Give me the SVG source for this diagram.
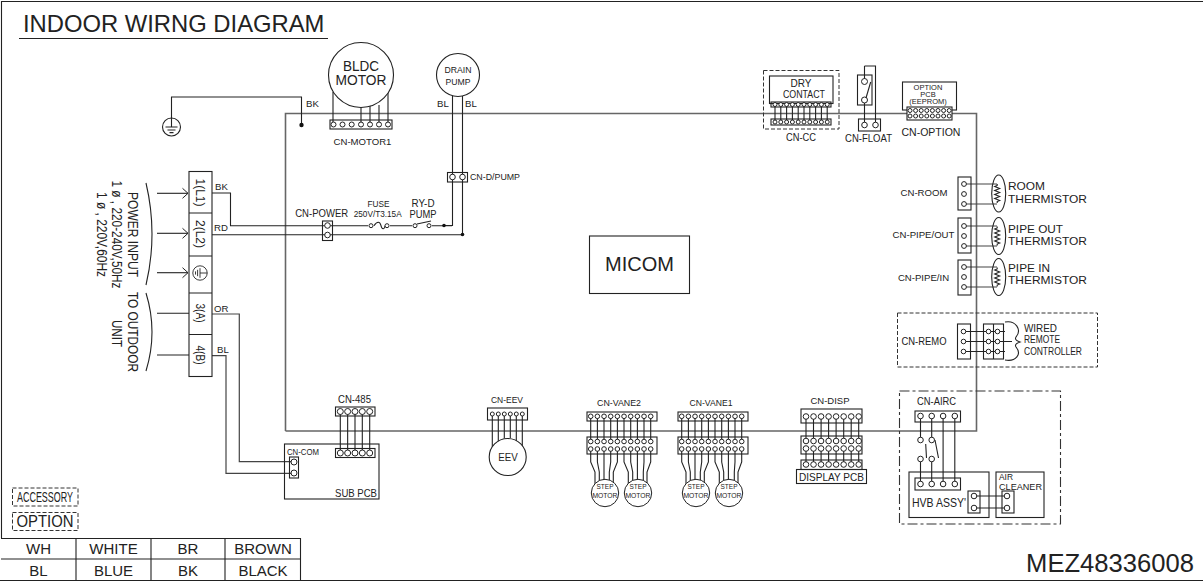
<svg xmlns="http://www.w3.org/2000/svg" xmlns:xlink="http://www.w3.org/1999/xlink" width="1203" height="583" viewBox="0 0 1203 583">
<style>
text{font-family:"Liberation Sans",Arial,sans-serif;fill:#222}
.m{text-anchor:middle}
.box{fill:none;stroke:#222;stroke-width:1.1}
.w{fill:none;stroke:#222;stroke-width:1.1}
.g{fill:none;stroke:#666;stroke-width:1.6}
.g2{fill:none;stroke:#444;stroke-width:1.2}
.pin{fill:#fff;stroke:#222;stroke-width:1}
.d1{fill:none;stroke:#333;stroke-width:1;stroke-dasharray:4 2}
.d2{fill:none;stroke:#333;stroke-width:1.1;stroke-dasharray:10 3 3 3}
.s7{font-size:7.5px}.s8{font-size:8.5px}.s9{font-size:9.6px}.s10{font-size:10.5px}.s11{font-size:11.8px}.s12{font-size:12.5px}.s13{font-size:15px}.s14{font-size:14px}
</style>
<defs>
<marker id="arr" markerUnits="userSpaceOnUse" markerWidth="8" markerHeight="12" refX="6.5" refY="6" orient="auto"><path d="M1 1L6.5 6L1 11" fill="none" stroke="#222" stroke-width="1"/></marker>
<g id="p10cc"><circle class="pin" cx="0" r="2"/><circle class="pin" cx="5.8" r="2"/><circle class="pin" cx="11.6" r="2"/><circle class="pin" cx="17.4" r="2"/><circle class="pin" cx="23.2" r="2"/><circle class="pin" cx="29" r="2"/><circle class="pin" cx="34.8" r="2"/><circle class="pin" cx="40.6" r="2"/><circle class="pin" cx="46.4" r="2"/><circle class="pin" cx="52.2" r="2"/></g>
<g id="p8o"><circle class="pin" cx="0" r="2"/><circle class="pin" cx="5.6" r="2"/><circle class="pin" cx="11.2" r="2"/><circle class="pin" cx="16.8" r="2"/><circle class="pin" cx="22.4" r="2"/><circle class="pin" cx="28" r="2"/><circle class="pin" cx="33.6" r="2"/><circle class="pin" cx="39.2" r="2"/></g>
<g id="p5"><circle class="pin" cx="0" r="3"/><circle class="pin" cx="7.35" r="3"/><circle class="pin" cx="14.7" r="3"/><circle class="pin" cx="22" r="3"/><circle class="pin" cx="29.4" r="3"/></g>
<g id="p10"><circle class="pin" cx="0" r="2.3"/><circle class="pin" cx="6.67" r="2.3"/><circle class="pin" cx="13.33" r="2.3"/><circle class="pin" cx="20" r="2.3"/><circle class="pin" cx="26.67" r="2.3"/><circle class="pin" cx="33.33" r="2.3"/><circle class="pin" cx="40" r="2.3"/><circle class="pin" cx="46.67" r="2.3"/><circle class="pin" cx="53.33" r="2.3"/><circle class="pin" cx="60" r="2.3"/></g>
<g id="p8d"><circle class="pin" cx="0" r="2.8"/><circle class="pin" cx="7.53" r="2.8"/><circle class="pin" cx="15.06" r="2.8"/><circle class="pin" cx="22.6" r="2.8"/><circle class="pin" cx="30.1" r="2.8"/><circle class="pin" cx="37.65" r="2.8"/><circle class="pin" cx="45.2" r="2.8"/><circle class="pin" cx="52.7" r="2.8"/></g>
<g id="p4"><circle class="pin" cx="0" r="2.8"/><circle class="pin" cx="11.2" r="2.8"/><circle class="pin" cx="22.6" r="2.8"/><circle class="pin" cx="34.3" r="2.8"/></g>
<g id="gnd"><circle class="box" r="9"/><path class="w" d="M0-9V0M-6 0H6M-4 3H4M-2 5.6H2"/></g>
<g id="therm"><ellipse class="box" rx="7" ry="18.5"/><path class="w" d="M-1.5-9.5L-1.5-8L-4-7L1-5L-4-3L1-1L-4 1L1 3L-4 5L1 7L-1.5 8V9.5"/></g>
<g id="vwires"><path class="w" d="M590.7 416V441.5M597.4 416V441.5M604 416V441.5M610.7 416V441.5M617.4 416V441.5M624 416V441.5M630.7 416V441.5M637.4 416V441.5M644 416V441.5M650.7 416V441.5"/><path class="w" d="M590.7 449V462L595 472V485M597.4 449V462L599.3 472V481M604 449V480M610.7 449V462L609.3 472V481M617.4 449V462L613.3 472V485M624 449V462L628.3 472V485M630.7 449V462L632.7 472V481M637.4 449V480M644 449V462L643.3 472V481M650.7 449V462L647 472V485"/></g>
<g id="vnode"><rect class="box" x="587" y="412" width="70" height="9"/><rect class="box" x="587" y="437" width="70" height="17"/><use xlink:href="#p10" x="590.7" y="416.3"/><use xlink:href="#p10" x="590.7" y="441.5"/><use xlink:href="#p10" x="590.7" y="449"/><circle class="pin" cx="605" cy="493" r="13.7"/><circle class="pin" cx="638" cy="493" r="13.7"/></g>
</defs>

<g id="frame"><path class="box" d="M1.5 538V1.5H1203"/><path class="box" d="M0 580.5H1203"/></g>
<g id="title"><text x="23" y="32" font-size="23.8">INDOOR WIRNG DIAGRAM</text><path class="w" d="M19 38.5H328"/></g>

<g id="connectors">
<path class="g" d="M285.500 431V113.500H976.500V431H285.500"/>
<path class="w" d="M171.500 118V97H301.500V125"/>
<path class="w" d="M333 92V125M361 105V125M370 105V125M379 105V125M388 92V125"/>
<path class="w" d="M452.500 96V225.500H444M462.500 96V234.500"/>
<path class="w" d="M212 193H230.500V225.700H368M374 225.700C377 221 380 221 381 225.700S385 229 385 225.700M390 225.700H412M432 225.700H452"/>
<path class="w" d="M212 234.700H462.500"/>
<path class="g2" d="M212 314H239.300V461.700H294M212 355.700H226V473.300H294"/>
<path class="w" d="M157 193.300H188" marker-end="url(#arr)"/><path class="w" d="M157 233.300H188" marker-end="url(#arr)"/><path class="w" d="M157 272.700H188" marker-end="url(#arr)"/>
<path class="w" d="M157 313.300H189M157 355H189"/>
<path class="w" d="M146 183Q158 234 146 285M146 293Q158 332 146 371"/>
<path class="w" d="M775 104.500V122M780.800 104.500V122M786.600 104.500V122M792.400 104.500V122M798.200 104.500V122M804 104.500V122M809.800 104.500V122M815.600 104.500V122M821.400 104.500V122M827.200 104.500V122"/>
<path class="w" d="M864.500 66V81.500M864.500 100V125M864.500 66H875.500V125"/>
<path class="g2" d="M964 184H997M964 204H997M964 226H997M964 246H997M964 267H997M964 287H997"/>
<path class="w" d="M963.500 331.500H1005M963.500 341.500H1012M963.500 351.500H1005"/>
<path class="w" d="M1005 322C1016 320 1022 330 1016 337Q1014 340 1020 342Q1014 344 1016 347C1022 354 1016 362 1005 360"/>
<path class="w" d="M920.500 416V440M920.500 459V484M931.700 416V440M931.700 459V484M943.100 416V484M954.800 416V484"/>
<path class="w" d="M925.700 444L926.500 458M935 440L938.500 458"/>
<path class="w" d="M974 496H1007M974 508H1007"/>
<path class="w" d="M340.300 411V453M347.650 411V453M355 411V453M362.300 411V453M369.700 411V453"/>
<path class="w" d="M492.300 414V451M498.300 414V443M504.300 414V438M510.300 414V438M516.300 414V443M522.300 414V451"/>
<use xlink:href="#vwires"/><use xlink:href="#vwires" x="91"/>
<path class="w" d="M806 416.500V441M813.500 416.500V441M821.100 416.500V441M828.600 416.500V441M836.100 416.500V441M843.700 416.500V441M851.200 416.500V441M858.700 416.500V441M806 448.500V464M813.500 448.500V464M821.100 448.500V464M828.600 448.500V464M836.100 448.500V464M843.700 448.500V464M851.200 448.500V464M858.700 448.500V464"/>
<circle cx="301.500" cy="125" r="2.200" fill="#111"/><circle cx="444" cy="225.500" r="1.800" fill="#111"/><circle cx="462.500" cy="234.500" r="1.800" fill="#111"/>
</g>

<g id="ground"><use xlink:href="#gnd" x="171.500" y="127"/><text x="306" y="107" class="s9">BK</text></g>
<g id="bldc-motor"><circle cx="361" cy="75" r="32.500" class="box" style="fill:#fff"/><text x="361" y="71" class="m" font-size="14.500" textLength="36" lengthAdjust="spacingAndGlyphs">BLDC</text><text x="361" y="85" class="m" font-size="14.500" textLength="51" lengthAdjust="spacingAndGlyphs">MOTOR</text></g>
<g id="cn-motor1"><rect class="box" x="330" y="120" width="62" height="9"/><circle class="pin" cx="333.500" cy="124.500" r="2.500"/><circle class="pin" cx="342.500" cy="124.500" r="2.500"/><circle class="pin" cx="351.700" cy="124.500" r="2.500"/><circle class="pin" cx="361" cy="124.500" r="2.500"/><circle class="pin" cx="370" cy="124.500" r="2.500"/><circle class="pin" cx="379" cy="124.500" r="2.500"/><circle class="pin" cx="388" cy="124.500" r="2.500"/><text x="362.500" y="145" class="m s9">CN-MOTOR1</text></g>
<g id="drain-pump"><circle cx="458" cy="75" r="21.500" class="box" style="fill:#fff"/><text x="458" y="73" class="m" font-size="9.500" textLength="27" lengthAdjust="spacingAndGlyphs">DRAIN</text><text x="458" y="85" class="m" font-size="9.500" textLength="25" lengthAdjust="spacingAndGlyphs">PUMP</text><text x="437" y="107" class="s9">BL</text><text x="465" y="107" class="s9">BL</text></g>
<g id="cn-dpump"><rect class="box" x="447.500" y="172.500" width="20" height="9.500"/><circle class="pin" cx="452.500" cy="177" r="2.800"/><circle class="pin" cx="462.500" cy="177" r="2.800"/><text x="470" y="180" class="s8" textLength="50" lengthAdjust="spacingAndGlyphs">CN-D/PUMP</text></g>

<g id="terminal"><rect class="box" x="189" y="171.500" width="23" height="205"/><path class="w" d="M189 213H212M189 256H212M189 293H212M189 334.500H212"/>
<text transform="translate(196,192.500) rotate(90)" class="m" font-size="13" textLength="28" lengthAdjust="spacingAndGlyphs">1(L1)</text><text transform="translate(196,234) rotate(90)" class="m" font-size="13" textLength="28" lengthAdjust="spacingAndGlyphs">2(L2)</text><use xlink:href="#gnd" transform="translate(200,273) rotate(90) scale(.8)"/><text transform="translate(196,313) rotate(90)" class="m" font-size="13" textLength="19" lengthAdjust="spacingAndGlyphs">3(A)</text><text transform="translate(196,355) rotate(90)" class="m" font-size="13" textLength="19" lengthAdjust="spacingAndGlyphs">4(B)</text></g>
<g id="terminal-labels"><text x="215" y="190" class="s9">BK</text><text x="214" y="231" class="s9">RD</text><text x="214" y="312" class="s9">OR</text><text x="217" y="353" class="s9">BL</text></g>
<g id="power-input"><text transform="translate(128,234.500) rotate(90)" class="m s14" textLength="85" lengthAdjust="spacingAndGlyphs">POWER INPUT</text><text transform="translate(112,234.500) rotate(90)" class="m s14" textLength="108" lengthAdjust="spacingAndGlyphs">1 ø , 220-240V,50Hz</text><text transform="translate(97,234.500) rotate(90)" class="m s14" textLength="85" lengthAdjust="spacingAndGlyphs">1 ø , 220V,60Hz</text></g>
<g id="to-outdoor"><text transform="translate(128,332) rotate(90)" class="m s14" textLength="80" lengthAdjust="spacingAndGlyphs">TO OUTDOOR</text><text transform="translate(112,333.500) rotate(90)" class="m s14" textLength="27" lengthAdjust="spacingAndGlyphs">UNIT</text></g>

<g id="cn-power"><rect class="box" x="322.500" y="221" width="10" height="19.500"/><circle class="pin" cx="327.500" cy="225.500" r="2.800"/><circle class="pin" cx="327.500" cy="235" r="2.800"/><text x="321.700" y="217" class="m" font-size="10" textLength="53" lengthAdjust="spacingAndGlyphs">CN-POWER</text></g>
<g id="fuse"><circle class="pin" cx="371" cy="225.700" r="2"/><circle class="pin" cx="387" cy="225.700" r="2"/><text x="378.500" y="207" class="m s9" textLength="22" lengthAdjust="spacingAndGlyphs">FUSE</text><text x="377.700" y="217" class="m" font-size="9" textLength="48" lengthAdjust="spacingAndGlyphs">250V/T3.15A</text></g>
<g id="ry-d"><circle class="pin" cx="415" cy="225.700" r="2"/><circle class="pin" cx="429" cy="225.700" r="2"/><path class="w" d="M417 224L431 221"/><text x="423" y="207" class="m" font-size="10" textLength="23" lengthAdjust="spacingAndGlyphs">RY-D</text><text x="423" y="218" class="m" font-size="10" textLength="27" lengthAdjust="spacingAndGlyphs">PUMP</text></g>
<g id="micom"><rect class="box" x="589.500" y="236" width="100" height="57.500"/><text x="639.500" y="271" class="m" font-size="20">MICOM</text></g>

<g id="cn-cc"><rect class="d1" x="763.500" y="70.500" width="75.500" height="58.500"/><rect class="box" x="769.500" y="76" width="63.500" height="27.500"/><text x="801" y="87" class="m" font-size="10.500" textLength="21" lengthAdjust="spacingAndGlyphs">DRY</text><text x="804" y="97.700" class="m" font-size="10.500" textLength="42" lengthAdjust="spacingAndGlyphs">CONTACT</text><rect class="box" x="771" y="102" width="60" height="5"/><rect class="box" x="771" y="119" width="60" height="6"/><use xlink:href="#p10cc" x="775" y="104.500"/><use xlink:href="#p10cc" x="775" y="122"/><text x="801" y="141" class="m s10" textLength="30" lengthAdjust="spacingAndGlyphs">CN-CC</text></g>
<g id="cn-float"><rect class="box" x="857.500" y="75" width="14.500" height="30"/><circle class="pin" cx="864.500" cy="81.500" r="3"/><circle class="pin" cx="864.500" cy="100" r="3"/><path class="w" d="M870.700 82L866 98"/><rect class="box" x="858.500" y="119" width="22" height="12"/><circle class="pin" cx="864.500" cy="125" r="2.800"/><circle class="pin" cx="875.500" cy="125" r="2.800"/><text x="868.500" y="142" class="m s10" textLength="47" lengthAdjust="spacingAndGlyphs">CN-FLOAT</text></g>
<g id="cn-option"><rect class="box" x="902.500" y="82" width="54" height="28" style="fill:#fff"/><text x="928" y="90" class="m s7">OPTION</text><text x="928" y="97" class="m s7">PCB</text><text x="928" y="104" class="m s7">(EEPROM)</text><rect class="box" x="907" y="107" width="45" height="13" style="fill:#fff"/><use xlink:href="#p8o" x="910" y="110.500"/><use xlink:href="#p8o" x="910" y="116"/><text x="931" y="136" class="m s10">CN-OPTION</text></g>

<g id="cn-room"><rect class="box" x="958" y="177" width="13" height="33"/><circle class="pin" cx="964" cy="184" r="2.400"/><circle class="pin" cx="964" cy="194" r="2.400"/><circle class="pin" cx="964" cy="204" r="2.400"/><text x="924" y="196" class="m s9">CN-ROOM</text><use xlink:href="#therm" x="998.700" y="193.500"/><text x="1008" y="190" class="s11" textLength="37" lengthAdjust="spacingAndGlyphs">ROOM</text><text x="1008" y="202.700" class="s11" textLength="79" lengthAdjust="spacingAndGlyphs">THERMISTOR</text></g>
<g id="cn-pipe-out"><rect class="box" x="958" y="218" width="13" height="35"/><circle class="pin" cx="964" cy="226" r="2.400"/><circle class="pin" cx="964" cy="236" r="2.400"/><circle class="pin" cx="964" cy="246" r="2.400"/><text x="923.500" y="238" class="m s9">CN-PIPE/OUT</text><use xlink:href="#therm" x="998.700" y="236"/><text x="1008" y="232.700" class="s11" textLength="55" lengthAdjust="spacingAndGlyphs">PIPE OUT</text><text x="1008" y="245" class="s11" textLength="79" lengthAdjust="spacingAndGlyphs">THERMISTOR</text></g>
<g id="cn-pipe-in"><rect class="box" x="958" y="260" width="13" height="35"/><circle class="pin" cx="964" cy="267" r="2.400"/><circle class="pin" cx="964" cy="277" r="2.400"/><circle class="pin" cx="964" cy="287" r="2.400"/><text x="923.500" y="281" class="m s9">CN-PIPE/IN</text><use xlink:href="#therm" x="998.700" y="277"/><text x="1008" y="271.700" class="s11" textLength="42" lengthAdjust="spacingAndGlyphs">PIPE IN</text><text x="1008" y="284.300" class="s11" textLength="79" lengthAdjust="spacingAndGlyphs">THERMISTOR</text></g>

<g id="cn-remo"><rect class="d1" x="897.500" y="313" width="200" height="54"/><text x="924" y="345" class="m s10" textLength="45" lengthAdjust="spacingAndGlyphs">CN-REMO</text><rect class="box" x="957.500" y="324" width="13" height="35"/><rect class="box" x="983.500" y="324" width="20" height="35"/><path class="w" d="M993.500 324V359"/><circle class="pin" cx="963.500" cy="331.500" r="2.300"/><circle class="pin" cx="963.500" cy="341.500" r="2.300"/><circle class="pin" cx="963.500" cy="351.500" r="2.300"/><circle class="pin" cx="988.500" cy="331.500" r="2.300"/><circle class="pin" cx="988.500" cy="341.500" r="2.300"/><circle class="pin" cx="988.500" cy="351.500" r="2.300"/><circle class="pin" cx="997.500" cy="331.500" r="2.300"/><circle class="pin" cx="997.500" cy="341.500" r="2.300"/><circle class="pin" cx="997.500" cy="351.500" r="2.300"/><text x="1024" y="331.700" class="s10" textLength="33" lengthAdjust="spacingAndGlyphs">WIRED</text><text x="1024" y="343" class="s10" textLength="36" lengthAdjust="spacingAndGlyphs">REMOTE</text><text x="1024" y="355" class="s10" textLength="58" lengthAdjust="spacingAndGlyphs">CONTROLLER</text></g>

<g id="cn-airc"><rect class="d2" x="899.500" y="391" width="161" height="133"/><text x="936.500" y="405" class="m s10" textLength="39" lengthAdjust="spacingAndGlyphs">CN-AIRC</text><rect class="box" x="915" y="411" width="45.500" height="11"/><use xlink:href="#p4" x="920.500" y="416"/><circle class="pin" cx="920.500" cy="440" r="2.800"/><circle class="pin" cx="931.700" cy="440" r="2.800"/><circle class="pin" cx="920.500" cy="459" r="2.800"/><circle class="pin" cx="931.700" cy="459" r="2.800"/></g>
<g id="hvb-assy"><rect class="box" x="909" y="472" width="80" height="45.500"/><rect class="box" x="915" y="478" width="45.500" height="12"/><use xlink:href="#p4" x="920.500" y="484"/><text x="912" y="507" font-size="12.500" textLength="54" lengthAdjust="spacingAndGlyphs">HVB ASSY'</text><rect class="box" x="968" y="491" width="12" height="22"/><circle class="pin" cx="974" cy="496" r="2.800"/><circle class="pin" cx="974" cy="508" r="2.800"/></g>
<g id="air-cleaner"><rect class="box" x="996" y="472" width="48" height="45.500"/><text x="999" y="480" font-size="9.500" textLength="14" lengthAdjust="spacingAndGlyphs">AIR</text><text x="999" y="489.500" font-size="9.500" textLength="43" lengthAdjust="spacingAndGlyphs">CLEANER</text><rect class="box" x="1002" y="491" width="12" height="22"/><circle class="pin" cx="1007" cy="496" r="2.800"/><circle class="pin" cx="1007" cy="508" r="2.800"/></g>

<g id="cn-485"><text x="354.500" y="403" class="m s10" textLength="33" lengthAdjust="spacingAndGlyphs">CN-485</text><rect class="box" x="335.500" y="407" width="39.500" height="9"/><use xlink:href="#p5" x="340.300" y="411.500"/></g>
<g id="sub-pcb"><rect class="box" x="284.500" y="444" width="94.500" height="55"/><rect class="box" x="335.500" y="448.500" width="39.500" height="9"/><use xlink:href="#p5" x="340.300" y="453"/><text x="287" y="455" class="s8" textLength="32" lengthAdjust="spacingAndGlyphs">CN-COM</text><rect class="box" x="289.500" y="457" width="9" height="21"/><circle class="pin" cx="294" cy="462" r="3"/><circle class="pin" cx="294" cy="473" r="3"/><text x="335" y="496.700" class="s10" textLength="42" lengthAdjust="spacingAndGlyphs">SUB PCB</text></g>
<g id="cn-eev"><text x="507" y="403" class="m s9" textLength="32" lengthAdjust="spacingAndGlyphs">CN-EEV</text><rect class="box" x="487.500" y="408" width="40" height="12"/><circle class="pin" cx="492.300" cy="414" r="2"/><circle class="pin" cx="498.300" cy="414" r="2"/><circle class="pin" cx="504.300" cy="414" r="2"/><circle class="pin" cx="510.300" cy="414" r="2"/><circle class="pin" cx="516.300" cy="414" r="2"/><circle class="pin" cx="522.300" cy="414" r="2"/><circle class="box" cx="507.700" cy="457" r="18.500" style="fill:#fff"/><text x="508" y="460.500" class="m s11" textLength="19.500" lengthAdjust="spacingAndGlyphs">EEV</text></g>
<g id="cn-vane2"><text x="619" y="406" class="m s9" textLength="44" lengthAdjust="spacingAndGlyphs">CN-VANE2</text><use xlink:href="#vnode"/><text x="605" y="489" class="m s7" textLength="17" lengthAdjust="spacingAndGlyphs">STEP</text><text x="605" y="497.500" class="m s7" textLength="25" lengthAdjust="spacingAndGlyphs">MOTOR</text><text x="638" y="489" class="m s7" textLength="17" lengthAdjust="spacingAndGlyphs">STEP</text><text x="638" y="497.500" class="m s7" textLength="25" lengthAdjust="spacingAndGlyphs">MOTOR</text></g>
<g id="cn-vane1"><text x="711" y="406" class="m s9" textLength="43" lengthAdjust="spacingAndGlyphs">CN-VANE1</text><use xlink:href="#vnode" x="91"/><text x="696" y="489" class="m s7" textLength="17" lengthAdjust="spacingAndGlyphs">STEP</text><text x="696" y="497.500" class="m s7" textLength="25" lengthAdjust="spacingAndGlyphs">MOTOR</text><text x="729" y="489" class="m s7" textLength="17" lengthAdjust="spacingAndGlyphs">STEP</text><text x="729" y="497.500" class="m s7" textLength="25" lengthAdjust="spacingAndGlyphs">MOTOR</text></g>
<g id="cn-disp"><text x="830" y="404" class="m s9" textLength="39" lengthAdjust="spacingAndGlyphs">CN-DISP</text><rect class="box" x="801" y="409" width="61" height="14"/><use xlink:href="#p8d" x="806" y="416.500"/><rect class="box" x="801" y="436" width="61" height="18"/><use xlink:href="#p8d" x="806" y="441"/><use xlink:href="#p8d" x="806" y="448.500"/><rect class="box" x="801" y="460" width="61" height="9.500"/><use xlink:href="#p8d" x="806" y="464.500"/><rect class="box" x="796.500" y="469.500" width="70" height="14"/><text x="831.500" y="481" class="m" font-size="11" textLength="65" lengthAdjust="spacingAndGlyphs">DISPLAY PCB</text></g>

<g id="legend"><rect class="d1" x="12.500" y="488" width="65.500" height="18"/><text x="45" y="501.500" class="m" font-size="14" textLength="56" lengthAdjust="spacingAndGlyphs">ACCESSORY</text><rect class="d1" x="12.500" y="512.500" width="65.500" height="18"/><text x="45" y="527.300" class="m" font-size="15.700" textLength="57" lengthAdjust="spacingAndGlyphs">OPTION</text></g>
<g id="color-table"><path class="box" d="M1 538.500H300.500V580.500M1 559H300.500M76 538.500V580.500M151 538.500V580.500M225 538.500V580.500"/>
<text x="38.500" y="553.500" class="m s13">WH</text><text x="113.500" y="553.500" class="m s13">WHITE</text><text x="188" y="553.500" class="m s13">BR</text><text x="263" y="553.500" class="m s13">BROWN</text>
<text x="38.500" y="575.500" class="m s13">BL</text><text x="113.500" y="575.500" class="m s13">BLUE</text><text x="188" y="575.500" class="m s13">BK</text><text x="263" y="575.500" class="m s13">BLACK</text></g>
<g id="part-number"><text x="1194" y="571.500" text-anchor="end" font-size="25.600">MEZ48336008</text></g>
</svg>
